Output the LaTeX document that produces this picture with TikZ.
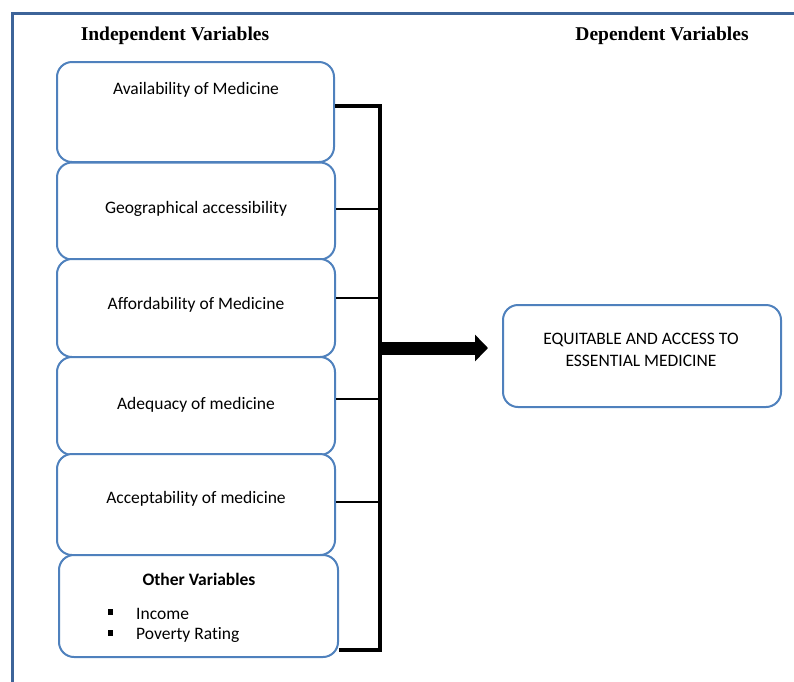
\documentclass[tikz,border=0pt]{standalone}
\usepackage{fontspec}
\setmainfont{Carlito}[Ligatures={NoCommon}]
\newfontfamily\hdfont{Liberation Serif}
\usetikzlibrary{arrows.meta}
\definecolor{boxblue}{HTML}{4F81BD}
\definecolor{frameblue}{HTML}{3D6499}
\tikzset{
  vbox/.style={draw=boxblue, line width=2pt, rounded corners=15pt, fill=white, inner sep=0pt},
  btext/.style={font=\fontsize{17.5}{21}\selectfont, inner sep=0pt, anchor=center},
  hd/.style={font=\hdfont\bfseries\fontsize{19.5}{22}\selectfont, inner sep=0pt},
  bar/.style={line width=4pt, black},
  conn/.style={line width=2.5pt, black},
}
\begin{document}
\begin{tikzpicture}[x=1pt, y=-1pt]
\useasboundingbox (0,0) rectangle (794,681);
% frame
\draw[frameblue, line width=3pt] (12,690) -- (12,13) -- (800,13);
% headers
\node[hd] (h1) at (175,36) {Independent Variables};
\node[hd] (h2) at (662,36) {Dependent Variables};
% boxes
\node[vbox, minimum width=277pt, minimum height=100pt] (b1) at (195.5,112) {};
\node[vbox, minimum width=278pt, minimum height=97pt] (b2) at (196,211) {};
\node[vbox, minimum width=278pt, minimum height=98pt] (b3) at (196,308) {};
\node[vbox, minimum width=278pt, minimum height=98pt] (b4) at (196,406) {};
\node[vbox, minimum width=278pt, minimum height=101pt] (b5) at (196,504.5) {};
\node[vbox, minimum width=279pt, minimum height=102pt] (b6) at (198.5,606) {};
% box texts
\node[btext] (t1) at (196,90) {Availability of Medicine};
\node[btext] (t2) at (196,209) {Geographical accessibility};
\node[btext] (t3) at (196,305) {Affordability of Medicine};
\node[btext] (t4) at (196,405) {Adequacy of medicine};
\node[btext] (t5) at (196,499) {Acceptability of medicine};
\node[btext, font=\bfseries\fontsize{17.5}{21}\selectfont] (t6) at (199,579.5) {Other Variables};
\node[btext, anchor=west] (i1) at (136,614) {Income};
\node[btext, anchor=west] (i2) at (136,635) {Poverty Rating};
\node[fill=black, minimum size=5.5pt, inner sep=0pt] (s1) at (110.5,612) {};
\node[fill=black, minimum size=5.5pt, inner sep=0pt] (s2) at (110.5,633) {};
% dependent box
\node[vbox, minimum width=278pt, minimum height=102pt] (d) at (642,356) {};
\node[btext, align=center, font=\fontsize{17.5}{22}\selectfont] (dt) at (641,350) {EQUITABLE AND ACCESS TO\\ESSENTIAL MEDICINE};
% connectors
\coordinate (c1) at (380,106);
\coordinate (c2) at (380,209);
\coordinate (c3) at (380,298);
\coordinate (c4) at (380,399);
\coordinate (c5) at (380,502);
\coordinate (c6) at (380,650);
\draw[bar, line join=miter] (b1.east |- c1) -- (c1) -- (c6) -- (b6.east |- c6);
\draw[conn] (b2.east |- c2) -- (c2);
\draw[conn] (b3.east |- c3) -- (c3);
\draw[conn] (b4.east |- c4) -- (c4);
\draw[conn] (b5.east |- c5) -- (c5);
% main arrow
\coordinate (a0) at (382,348);
\coordinate (a1) at (488,348);
\draw[line width=13pt, -{Triangle[length=13pt, width=26pt]}] (a0) -- (a1);
\end{tikzpicture}
\end{document}
